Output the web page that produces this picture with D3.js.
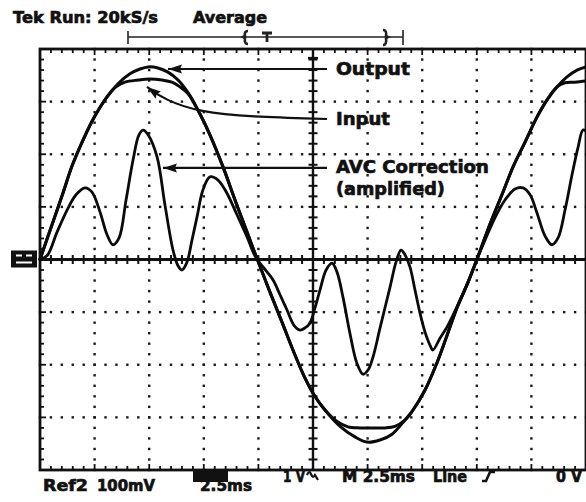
<!DOCTYPE html>
<html>
<head>
<meta charset="utf-8">
<script src="https://cdn.jsdelivr.net/npm/d3@7"></script>
<style>
  body { margin: 0; background: #fff; }
  svg { display: block; }
  text { font-family: "DejaVu Sans", sans-serif; font-weight: bold; fill: #111; stroke: #111; stroke-width: 0.7; }
</style>
</head>
<body>
<div class="scope"></div>
<script>
// traces: [time ms, volts] (1 V/div), AVC in mV (Ref2, 100 mV/div)
const outputTrace = [
  [0, 0], [0.55, 0.66], [1.01, 1.21], [1.47, 1.78], [1.97, 2.27], [2.52, 2.73], [3.07, 3.09],
  [3.57, 3.34], [4.12, 3.53], [4.58, 3.62], [4.95, 3.66], [5.40, 3.64], [5.86, 3.56], [6.32, 3.41],
  [6.78, 3.17], [7.23, 2.84], [7.78, 2.37], [8.38, 1.76], [8.93, 1.13], [9.48, 0.52], [9.98, -0.03],
  [10.53, -0.62], [11.08, -1.19], [11.68, -1.82], [12.13, -2.25], [12.50, -2.54], [13.05, -2.86],
  [13.74, -3.17], [14.42, -3.37], [14.97, -3.47], [15.57, -3.43], [16.12, -3.32], [16.71, -3.05],
  [17.08, -2.86], [17.63, -2.48], [18.13, -2.01], [18.64, -1.44], [19.09, -0.92], [19.60, -0.43],
  [20.05, 0.05], [20.60, 0.67], [21.15, 1.23], [21.66, 1.76], [22.21, 2.23], [22.76, 2.71],
  [23.21, 3.03], [23.67, 3.28], [24.13, 3.47], [24.59, 3.60], [25.0, 3.66]
];
const inputTrace = [
  [0, 0], [0.55, 0.66], [1.01, 1.21], [1.47, 1.78], [1.97, 2.27], [2.52, 2.73], [3.07, 3.09],
  [3.48, 3.28], [3.89, 3.37], [4.49, 3.41], [5.04, 3.43], [5.59, 3.41], [6.04, 3.37], [6.41, 3.28],
  [6.78, 3.15], [7.23, 2.84], [7.78, 2.37], [8.38, 1.76], [8.93, 1.13], [9.48, 0.52], [9.98, -0.03],
  [10.53, -0.62], [11.08, -1.19], [11.68, -1.82], [12.13, -2.25], [12.50, -2.54], [13.05, -2.86],
  [13.64, -3.09], [14.10, -3.18], [14.65, -3.20], [15.20, -3.20], [15.80, -3.20], [16.25, -3.17],
  [16.71, -3.05], [17.08, -2.86], [17.63, -2.48], [18.13, -2.01], [18.64, -1.44], [19.09, -0.92],
  [19.60, -0.43], [20.05, 0.05], [20.60, 0.67], [21.15, 1.23], [21.66, 1.76], [22.21, 2.23],
  [22.76, 2.71], [23.21, 3.03], [23.67, 3.28], [24.04, 3.36], [24.50, 3.37], [25.0, 3.39]
];
const avcTrace = [
  [0, 1], [0.32, 7], [0.78, 52], [1.24, 94], [1.65, 123], [2.06, 136], [2.38, 128], [2.75, 90],
  [3.07, 47], [3.34, 28], [3.62, 41], [3.94, 113], [4.26, 189], [4.53, 237], [4.72, 246], [4.95, 237],
  [5.36, 195], [5.72, 104], [6.09, 18], [6.32, -12], [6.50, -20], [6.73, -5], [6.96, 37], [7.19, 81],
  [7.46, 132], [7.78, 157], [8.15, 151], [8.56, 126], [9.02, 85], [9.48, 43], [9.84, 7], [10.21, -14],
  [10.67, -39], [10.99, -67], [11.31, -96], [11.63, -125], [11.90, -134], [12.13, -130], [12.36, -121],
  [12.59, -92], [12.82, -58], [13.10, -20], [13.37, -7], [13.60, -24], [13.87, -71], [14.19, -140],
  [14.51, -197], [14.79, -218], [15.02, -210], [15.25, -185], [15.57, -130], [16.03, -52], [16.30, -5],
  [16.53, 18], [16.71, 9], [16.94, -14], [17.17, -58], [17.40, -102], [17.63, -138], [17.86, -163],
  [17.99, -172], [18.32, -149], [18.64, -128], [19.09, -90], [19.60, -43], [20.05, 5], [20.38, 37],
  [20.83, 79], [21.29, 113], [21.75, 134], [22.12, 136], [22.44, 123], [22.76, 88], [23.12, 45],
  [23.44, 28], [23.72, 41], [24.04, 94], [24.36, 161], [24.63, 212], [24.86, 246], [25.0, 244]
];

// labels and their arrows, in screen units (ms, V)
const labelTexts = ['Output', 'Input', 'AVC Correction', '(amplified)'];
const labelBaselines = [3.51, 2.56, 1.64, 1.23];
const labelWidths = [74, 54, 153, 109];
const outputArrow = [[5.86, 3.62], [13.14, 3.62]];
const inputArrow = [[4.90, 3.28], [5.72, 3.03], [7.33, 2.80], [9.62, 2.71], [13.14, 2.67]];
const avcArrow = [[5.63, 1.74], [13.14, 1.74]];

const topTexts = ['Tek Run: 20kS/s', 'Average'];
const bottomTexts = ['1 V', 'M 2.5ms', 'Line', '0 V'];
const refTexts = ['Ref2', '100mV', '2.5ms'];

const svgWidth = 586;
const svgHeight = 502;

const svg = d3.select('.scope').append('svg')
    .attr('width', svgWidth)
    .attr('height', svgHeight)

const x = d3.scaleLinear().domain([0, 25]).range([40, 586]);
const y = d3.scaleLinear().domain([-4, 4]).range([470, 49]);
const yRef = d3.scaleLinear().domain([-400, 400]).range([470, 49]);

const majorX = d3.range(0, 25.01, 2.5);
const majorY = d3.range(-4, 4.01, 1);
const minorX = d3.range(0, 25.01, 0.5);
const minorY = d3.range(-4, 4.01, 0.2);

// dotted graticule
const grid = svg.append('g').attr('fill', '#1a1a1a');
majorX.filter(t => t > 0 && t < 25 && t !== 12.5).forEach(t => {
    grid.selectAll(null).data(minorY).join('rect')
        .attr('x', x(t) - 1.2).attr('y', d => y(d) - 1.2)
        .attr('width', 2.4).attr('height', 2.4);
});
majorY.filter(v => v > -4 && v < 4 && v !== 0).forEach(v => {
    grid.selectAll(null).data(minorX).join('rect')
        .attr('x', d => x(d) - 1.2).attr('y', y(v) - 1.2)
        .attr('width', 2.4).attr('height', 2.4);
});

// frame with ruler ticks
const frame = svg.append('g').attr('stroke', '#111');
frame.append('rect')
    .attr('x', x(0)).attr('y', y(4))
    .attr('width', x(25) - x(0)).attr('height', y(-4) - y(4))
    .attr('fill', 'none').attr('stroke-width', 2.8);
const isMajorX = t => Math.abs(t / 2.5 - Math.round(t / 2.5)) < 1e-6;
const isMajorY = v => Math.abs(v - Math.round(v)) < 1e-6;
frame.selectAll('.tickTop').data(minorX).join('line')
    .attr('x1', d => x(d)).attr('x2', d => x(d))
    .attr('y1', y(4)).attr('y2', d => y(4) + (isMajorX(d) ? 6 : 4))
    .attr('stroke-width', 1.8);
frame.selectAll('.tickBottom').data(minorX).join('line')
    .attr('x1', d => x(d)).attr('x2', d => x(d))
    .attr('y1', y(-4)).attr('y2', d => y(-4) - (isMajorX(d) ? 6 : 4))
    .attr('stroke-width', 1.8);
frame.selectAll('.tickLeft').data(minorY).join('line')
    .attr('x1', x(0)).attr('x2', d => x(0) + (isMajorY(d) ? 6 : 4))
    .attr('y1', d => y(d)).attr('y2', d => y(d))
    .attr('stroke-width', 1.8);

// centre cross
frame.append('line')
    .attr('x1', x(0)).attr('x2', x(25)).attr('y1', y(0)).attr('y2', y(0))
    .attr('stroke-width', 3.2);
frame.selectAll('.tickH').data(minorX).join('line')
    .attr('x1', d => x(d)).attr('x2', d => x(d))
    .attr('y1', y(0) - 4.5).attr('y2', y(0) + 4.5)
    .attr('stroke-width', 2);
frame.append('line')
    .attr('x1', x(12.5)).attr('x2', x(12.5)).attr('y1', y(4)).attr('y2', y(-4))
    .attr('stroke-width', 2.4);
frame.selectAll('.tickV').data(minorY).join('line')
    .attr('x1', x(12.5) - 4.5).attr('x2', x(12.5) + 4.5)
    .attr('y1', d => y(d)).attr('y2', d => y(d))
    .attr('stroke-width', 2);
frame.append('line')
    .attr('x1', x(12.5) - 5).attr('x2', x(12.5) + 5)
    .attr('y1', y(4) + 9).attr('y2', y(4) + 9)
    .attr('stroke-width', 2.2);

// traces
const line = d3.line().curve(d3.curveCatmullRom.alpha(0.5));
const traces = svg.append('g').attr('fill', 'none').attr('stroke', '#0a0a0a')
    .attr('stroke-linejoin', 'round').attr('stroke-linecap', 'round');
traces.append('path')
    .attr('d', line(outputTrace.map(d => [x(d[0]), y(d[1])])))
    .attr('stroke-width', 3);
traces.append('path')
    .attr('d', line(inputTrace.map(d => [x(d[0]), y(d[1])])))
    .attr('stroke-width', 3);
traces.append('path')
    .attr('d', line(avcTrace.map(d => [x(d[0]), yRef(d[1])])))
    .attr('stroke-width', 2.8);

// ground reference marker on the left
const gnd = svg.append('g');
gnd.append('rect').attr('x', 11).attr('y', y(0) - 9).attr('width', 26).attr('height', 17).attr('fill', '#111');
gnd.append('rect').attr('x', 16).attr('y', y(0) - 5).attr('width', 6).attr('height', 2).attr('fill', '#fff');
gnd.append('rect').attr('x', 26).attr('y', y(0) - 5).attr('width', 6).attr('height', 2).attr('fill', '#fff');
gnd.append('rect').attr('x', 16).attr('y', y(0) + 2).attr('width', 16).attr('height', 2).attr('fill', '#fff');

// arrows and labels
const defs = svg.append('defs');
defs.append('marker')
    .attr('id', 'head')
    .attr('viewBox', '0 0 14 10')
    .attr('refX', 14).attr('refY', 5)
    .attr('markerWidth', 14).attr('markerHeight', 10)
    .attr('markerUnits', 'userSpaceOnUse')
    .attr('orient', 'auto-start-reverse')
    .append('path').attr('d', 'M14,5 L0,0.5 L2,5 L0,9.5 Z').attr('fill', '#111');

const arrowLine = d3.line().curve(d3.curveBasis);
[outputArrow, inputArrow, avcArrow].forEach(a => {
    svg.append('path')
        .attr('d', arrowLine(a.map(d => [x(d[0]), y(d[1])])))
        .attr('fill', 'none').attr('stroke', '#111').attr('stroke-width', 2.2)
        .attr('marker-start', 'url(#head)');
});

svg.selectAll('.label').data(labelTexts).join('text')
    .attr('class', 'label')
    .attr('x', x(13.55))
    .attr('y', (d, i) => y(labelBaselines[i]))
    .attr('font-size', 18)
    .attr('textLength', (d, i) => labelWidths[i])
    .attr('lengthAdjust', 'spacingAndGlyphs')
    .text(d => d);

// header
svg.append('text').attr('x', 13).attr('y', 23).attr('font-size', 16)
    .attr('textLength', 145).attr('lengthAdjust', 'spacingAndGlyphs').text(topTexts[0]);
svg.append('text').attr('x', 193).attr('y', 23).attr('font-size', 16)
    .attr('textLength', 74).attr('lengthAdjust', 'spacingAndGlyphs').text(topTexts[1]);

// record window bar with trigger mark
const bar = svg.append('g').attr('stroke', '#222').attr('fill', 'none');
bar.append('line').attr('x1', 128).attr('x2', 403).attr('y1', 37).attr('y2', 37).attr('stroke-width', 1.4);
bar.append('line').attr('x1', 128).attr('x2', 128).attr('y1', 31).attr('y2', 44).attr('stroke-width', 1.6);
bar.append('line').attr('x1', 403).attr('x2', 403).attr('y1', 30).attr('y2', 45).attr('stroke-width', 1.6);
bar.append('path').attr('d', 'M248,31 Q244,31 245,36 L243,37 L245,38 Q244,44 248,44').attr('stroke-width', 2.6);
bar.append('path').attr('d', 'M383,30 Q387,30 386,36 L388,37 L386,38 Q387,45 383,45').attr('stroke-width', 2.6);
bar.append('path').attr('d', 'M262,33 L272,33 M267,33 L267,42').attr('stroke-width', 2.8);

// bottom readout
const bottomX = [283, 342, 433, 556];
const bottomW = [22, 73, 34, 26];
svg.selectAll('.readout').data(bottomTexts).join('text')
    .attr('class', 'readout')
    .attr('x', (d, i) => bottomX[i]).attr('y', 482)
    .attr('font-size', 15)
    .attr('textLength', (d, i) => bottomW[i]).attr('lengthAdjust', 'spacingAndGlyphs')
    .text(d => d);
svg.append('path')
    .attr('d', 'M307,475 Q309,470 311,474 Q313,479 315,475 L318,480')
    .attr('fill', 'none').attr('stroke', '#111').attr('stroke-width', 2.2);
svg.append('path')
    .attr('d', 'M482,481 L486,481 L490,472 L495,472')
    .attr('fill', 'none').attr('stroke', '#111').attr('stroke-width', 2.6);

// bottom trigger-position marker and Ref2 line
svg.append('rect').attr('x', 193).attr('y', 471).attr('width', 35).attr('height', 11).attr('fill', '#111');
const refX = [43, 97, 200];
const refW = [45, 58, 52];
svg.selectAll('.ref').data(refTexts).join('text')
    .attr('class', 'ref')
    .attr('x', (d, i) => refX[i]).attr('y', 491)
    .attr('font-size', 15)
    .attr('textLength', (d, i) => refW[i]).attr('lengthAdjust', 'spacingAndGlyphs')
    .text(d => d);
</script>
</body>
</html>
